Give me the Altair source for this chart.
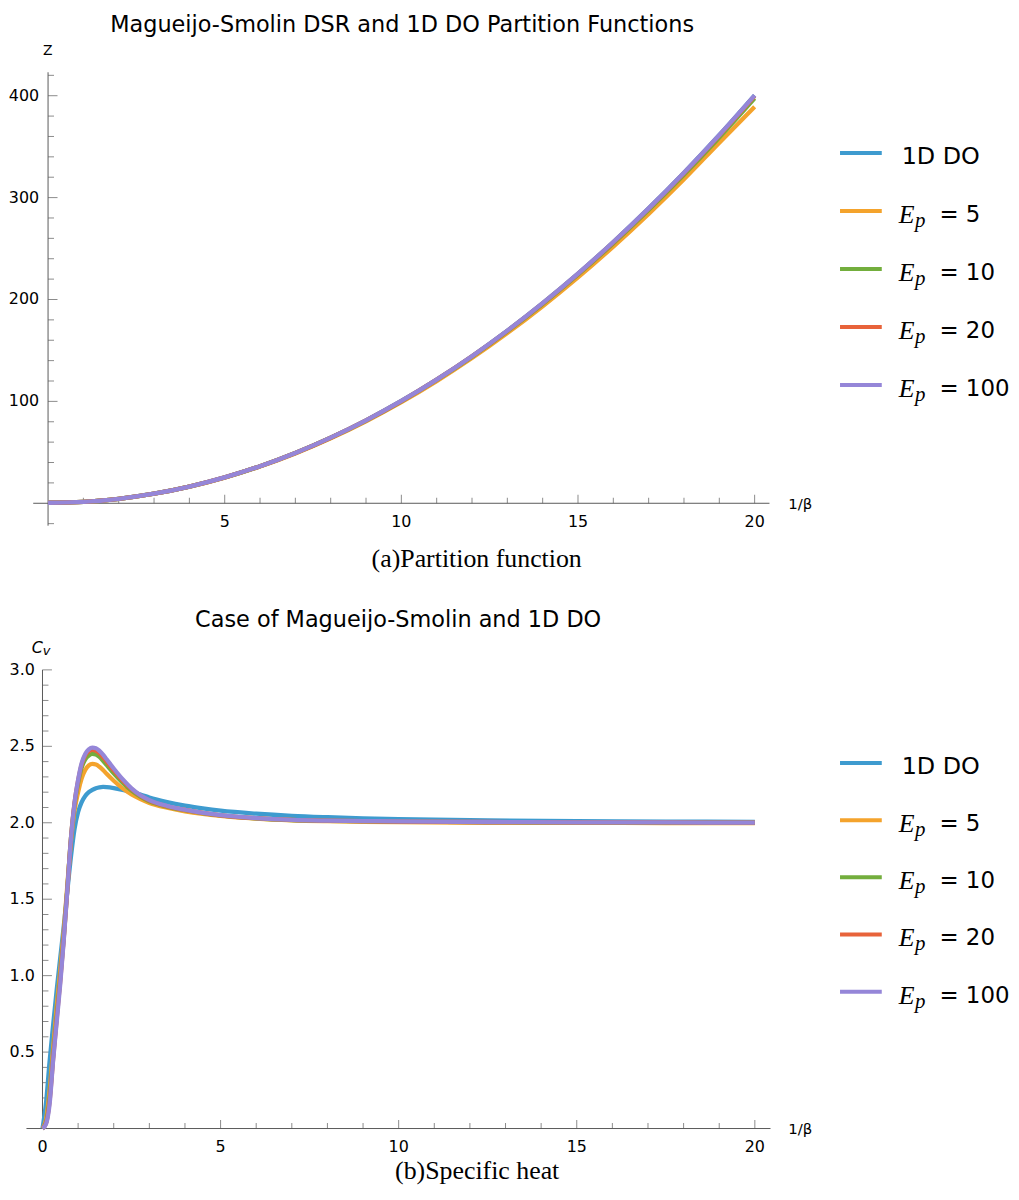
import altair as alt
import pandas as pd

# ---------------- data ----------------
series = ["1D DO", "E_p = 5", "E_p = 10", "E_p = 20", "E_p = 100"]
ep_values = ["", "5", "10", "20", "100"]
colors = ["#3E9BCF", "#F4A32C", "#73AE3D", "#E8633A", "#9586D8"]

# Partition function Z vs 1/beta
t_z = [0, 1, 2, 3, 4, 5, 6, 7, 8, 9, 10, 11, 12, 13, 14, 15, 16, 17, 18, 19, 20]
z_do = [0.5, 1.4, 4.4, 9.4, 16.4, 25.4, 36.4, 49.4, 64.4, 81.4, 100.4, 121.4, 144.4,
        169.4, 196.4, 225.4, 256.4, 289.4, 324.4, 361.4, 400.4]
z_ep5 = [0.5, 1.4, 4.4, 9.35, 16.3, 25.2, 36.1, 48.95, 63.75, 80.5, 99.2, 119.9, 142.5,
         167.0, 193.4, 221.7, 251.9, 284.0, 318.0, 353.9, 389.2]
z_ep10 = [0.5, 1.4, 4.4, 9.39, 16.37, 25.35, 36.33, 49.3, 64.25, 81.2, 100.1, 121.0, 143.9,
          168.8, 195.6, 224.4, 255.1, 287.8, 322.4, 358.9, 397.4]
z_ep20 = [0.5, 1.4, 4.4, 9.4, 16.4, 25.39, 36.38, 49.37, 64.36, 81.34, 100.32, 121.3, 144.26,
          169.23, 196.18, 225.14, 256.08, 289.02, 323.95, 360.86, 399.7]
z_ep100 = [0.5, 1.4, 4.4, 9.4, 16.4, 25.4, 36.4, 49.4, 64.4, 81.4, 100.4, 121.4, 144.4,
           169.4, 196.4, 225.4, 256.4, 289.4, 324.4, 361.4, 400.3]

# Specific heat C_v vs 1/beta
t_cv = [0, 0.1, 0.2, 0.3, 0.4, 0.5, 0.6, 0.7, 0.8, 0.9, 1.0, 1.1, 1.2, 1.3, 1.4, 1.5, 1.6,
        1.7, 1.8, 2.0, 2.25, 2.5, 2.75, 3.0, 3.5, 4.0, 4.5, 5.0, 6.0, 7.0, 8.0, 9.0, 10.0,
        12.5, 15.0, 17.5, 20.0]
cv_do = [0, 0.17, 0.44, 0.68, 0.91, 1.12, 1.33, 1.56, 1.78, 1.96, 2.07, 2.135, 2.175, 2.2,
         2.215, 2.226, 2.232, 2.234, 2.233, 2.227, 2.215, 2.2, 2.185, 2.165, 2.135, 2.112,
         2.094, 2.079, 2.059, 2.045, 2.036, 2.029, 2.024, 2.015, 2.011, 2.008, 2.006]
cv_ep5 = [0, 0.06, 0.25, 0.53, 0.8, 1.04, 1.3, 1.6, 1.88, 2.08, 2.2, 2.29, 2.345, 2.375,
          2.385, 2.381, 2.366, 2.345, 2.32, 2.275, 2.225, 2.185, 2.155, 2.13, 2.098, 2.075,
          2.058, 2.045, 2.027, 2.016, 2.01, 2.006, 2.004, 2.0, 1.999, 1.998, 1.997]
cv_ep10 = [0, 0.04, 0.2, 0.48, 0.74, 0.99, 1.26, 1.58, 1.9, 2.12, 2.26, 2.36, 2.415, 2.44,
           2.45, 2.446, 2.43, 2.405, 2.378, 2.323, 2.262, 2.21, 2.17, 2.14, 2.105, 2.082,
           2.063, 2.048, 2.029, 2.018, 2.013, 2.01, 2.007, 2.004, 2.002, 2.001, 2.0]
cv_ep20 = [0, 0.035, 0.18, 0.46, 0.72, 0.97, 1.25, 1.57, 1.9, 2.13, 2.275, 2.38, 2.44, 2.467,
           2.476, 2.471, 2.455, 2.43, 2.4, 2.343, 2.276, 2.22, 2.177, 2.145, 2.108, 2.084,
           2.064, 2.049, 2.03, 2.019, 2.014, 2.011, 2.008, 2.005, 2.003, 2.002, 2.001]
cv_ep100 = [0, 0.03, 0.16, 0.45, 0.7, 0.95, 1.24, 1.57, 1.9, 2.13, 2.28, 2.39, 2.45, 2.48,
            2.492, 2.488, 2.47, 2.445, 2.415, 2.355, 2.285, 2.225, 2.18, 2.148, 2.11, 2.085,
            2.065, 2.05, 2.03, 2.019, 2.014, 2.011, 2.009, 2.005, 2.003, 2.002, 2.001]

# ticks / labels
a_x_labels = [5, 10, 15, 20]
a_x_minor = [i for i in range(1, 20) if i % 5]
a_y_labels = [100, 200, 300, 400]
a_y_minor = [-20] + [i for i in range(20, 421, 20) if i % 100]
b_x_labels = [0, 5, 10, 15, 20]
b_x_major = [5, 10, 15, 20]
b_x_minor = [i for i in range(1, 20) if i % 5]
b_y_labels = [0.5, 1.0, 1.5, 2.0, 2.5, 3.0]
b_y_minor = [round(0.1 * i, 1) for i in range(1, 30) if i % 5]

# ---------------- style ----------------
W, H = 1009, 1180
SANS = "DejaVu Sans"
SERIF = "Liberation Serif"
AXC = "#5a5a5a"


def long_df(ts, cols):
    rows = []
    for name, ys in zip(series, cols):
        for t, v in zip(ts, ys):
            rows.append({"x": t, "y": v, "s": name})
    return pd.DataFrame(rows)


color_enc = alt.Color("s:N", scale=alt.Scale(domain=series, range=colors), legend=None)
one = pd.DataFrame({"k": [0]})


def label(text, x, y, size, font=SANS, align="left", style="normal"):
    return alt.Chart(one).mark_text(
        text=text, align=align, baseline="alphabetic", font=font, fontSize=size,
        fontStyle=style, color="black"
    ).encode(x=alt.value(x), y=alt.value(y))


def panel(df, xdom, xrng, ydom, yrng, xline, yline, x_labels, x_fmt, x_major, x_minor,
          y_labels, y_fmt, y_major, y_minor, y_pad, texts):
    xs = alt.Scale(domain=xdom, range=xrng, nice=False, zero=False)
    ys = alt.Scale(domain=ydom, range=yrng, nice=False, zero=False)
    X = alt.X("x:Q", scale=xs, axis=None)
    Y = alt.Y("y:Q", scale=ys, axis=None)

    layers = []
    # axis lines
    layers.append(alt.Chart(pd.DataFrame({"x": [xline[0]], "x2": [xline[1]], "y": [0]}))
                  .mark_rule(color=AXC, strokeWidth=1)
                  .encode(x=X, x2="x2:Q", y=Y))
    layers.append(alt.Chart(pd.DataFrame({"x": [0], "y": [yline[0]], "y2": [yline[1]]}))
                  .mark_rule(color=AXC, strokeWidth=1)
                  .encode(x=X, y=Y, y2="y2:Q"))
    # x ticks (pointing up, inside)
    for vals, size in ((x_major, 8.5), (x_minor, 5.5)):
        layers.append(alt.Chart(pd.DataFrame({"x": vals, "y": [0] * len(vals)}))
                      .mark_tick(orient="vertical", size=size, thickness=1, color=AXC,
                                 yOffset=-size / 2)
                      .encode(x=X, y=Y))
    # y ticks (pointing right, inside)
    for vals, size in ((y_major, 9.5), (y_minor, 6)):
        layers.append(alt.Chart(pd.DataFrame({"x": [0] * len(vals), "y": vals}))
                      .mark_tick(orient="horizontal", size=size, thickness=1, color=AXC,
                                 xOffset=size / 2)
                      .encode(x=X, y=Y))
    # tick labels
    xl = pd.DataFrame({"x": x_labels, "y": [0] * len(x_labels),
                       "lab": [format(v, x_fmt) for v in x_labels]})
    layers.append(alt.Chart(xl).mark_text(align="center", baseline="alphabetic", dy=23.7,
                                          font=SANS, fontSize=16, color="black")
                  .encode(x=X, y=Y, text="lab:N"))
    yl = pd.DataFrame({"x": [0] * len(y_labels), "y": y_labels,
                       "lab": [format(v, y_fmt) for v in y_labels]})
    layers.append(alt.Chart(yl).mark_text(align="right", baseline="middle", dx=-y_pad,
                                          font=SANS, fontSize=16, color="black")
                  .encode(x=X, y=Y, text="lab:N"))
    # curves, drawn in legend order
    for name in series:
        layers.append(alt.Chart(df).transform_filter(alt.datum.s == name)
                      .mark_line(strokeWidth=4.3, interpolate="monotone")
                      .encode(x=X, y=Y, color=color_enc))
    layers.extend(texts)
    return alt.layer(*layers)


leg_df = pd.DataFrame({
    "s": series,
    "kind": ["plain"] + ["ep"] * 4,
    "rest": ["1D DO"] + ["= " + v for v in ep_values[1:]],
})


def legend(yr):
    Yl = alt.Y("s:N", scale=alt.Scale(type="point", domain=series, range=yr, padding=0),
               axis=None)
    base = alt.Chart(leg_df)
    sw = base.mark_rule(strokeWidth=4).encode(
        x=alt.value(837), x2=alt.value(879), y=Yl, color=color_enc)
    plain = base.transform_filter(alt.datum.kind == "plain").mark_text(
        align="left", baseline="alphabetic", dy=11.5, font=SANS, fontSize=24, color="black"
    ).encode(x=alt.value(899), y=Yl, text="rest:N")
    e = base.transform_filter(alt.datum.kind == "ep").mark_text(
        text="E", align="left", baseline="alphabetic", dy=12, font=SERIF,
        fontStyle="italic", fontSize=26, color="black"
    ).encode(x=alt.value(896), y=Yl)
    p = base.transform_filter(alt.datum.kind == "ep").mark_text(
        text="p", align="left", baseline="alphabetic", dy=16, font=SERIF,
        fontStyle="italic", fontSize=21, color="black"
    ).encode(x=alt.value(912.5), y=Yl)
    eq = base.transform_filter(alt.datum.kind == "ep").mark_text(
        align="left", baseline="alphabetic", dy=11, font=SANS, fontSize=23, color="black"
    ).encode(x=alt.value(937), y=Yl, text="rest:N")
    return alt.layer(sw, plain, e, p, eq)


df_a = long_df(t_z, [z_do, z_ep5, z_ep10, z_ep20, z_ep100])
df_b = long_df(t_cv, [cv_do, cv_ep5, cv_ep10, cv_ep20, cv_ep100])

texts_a = [
    label("Magueijo-Smolin DSR and 1D DO Partition Functions", 396.5, 20.5, 22.5,
          align="center"),
    label("Z", 40, 43.7, 14, align="center"),
    label("1/β", 785, 500.7, 15),
    label("(a)Partition function", 471.5, 558.7, 26, font=SERIF, align="center"),
]
texts_b = [
    label("Case of Magueijo-Smolin and 1D DO", 392.5, 619.5, 22.5, align="center"),
    label("C", 24, 645.3, 16, style="italic"),
    label("v", 35, 647.5, 13, style="italic"),
    label("1/β", 785, 1129.7, 15),
    label("(b)Specific heat", 472, 1174, 26, font=SERIF, align="center"),
]

panel_a = panel(df_a, [0, 20], [40.3, 751.1], [0, 400], [494.7, 84.7],
                (-0.42, 20.42), (-22, 423), a_x_labels, "d", a_x_labels, a_x_minor,
                a_y_labels, "d", a_y_labels, a_y_minor, 9, texts_a)
panel_b = panel(df_b, [0, 20], [34.7, 751.3], [0, 3], [1123.7, 662.3],
                (-0.45, 20.44), (0, 3.0), b_x_labels, "d", b_x_major, b_x_minor,
                b_y_labels, ".1f", b_y_labels, b_y_minor, 7.7, texts_b)

chart = alt.layer(
    panel_a, legend([142.3, 375.7]), panel_b, legend([756, 986])
).resolve_scale(
    x="independent", y="independent"
).properties(
    width=W, height=H, padding=0, background="white",
    autosize=alt.AutoSizeParams(type="none"),
).configure_view(strokeWidth=0)

chart.save("out.html", embed_options={"renderer": "svg", "actions": False})
